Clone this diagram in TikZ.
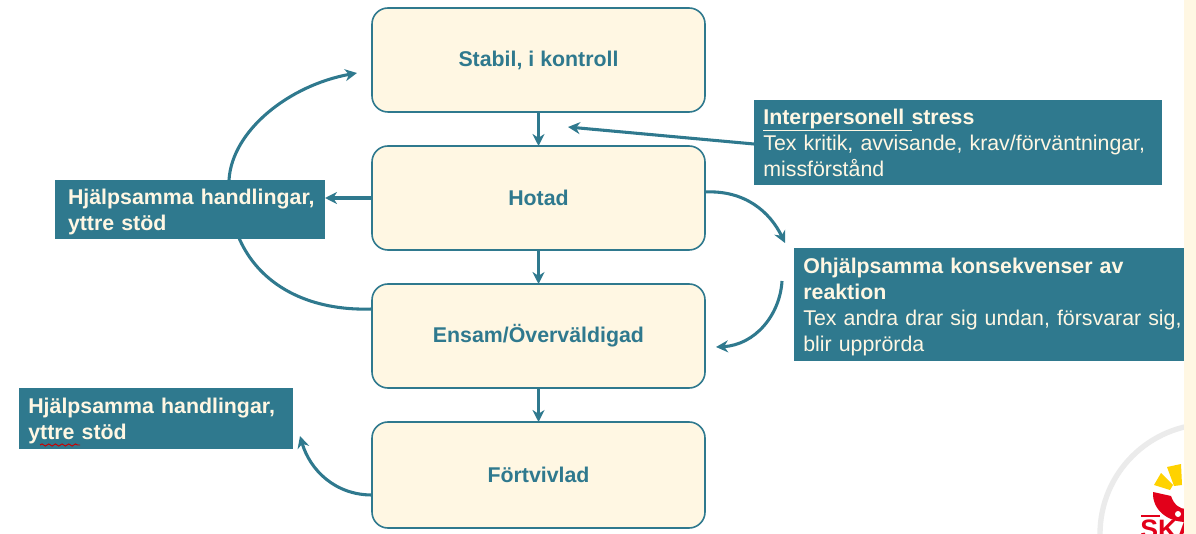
\documentclass[tikz,border=0pt]{standalone}
\usepackage{fontspec}
\setmainfont{Liberation Sans}
\usetikzlibrary{arrows.meta,positioning,decorations.pathmorphing}
\definecolor{tealdark}{HTML}{2F798E}
\definecolor{creamfill}{HTML}{FFF7E3}
\definecolor{logored}{HTML}{E2001A}
\definecolor{logoyellow}{HTML}{FFD200}
\newcommand{\notestrut}{\rule{0pt}{15pt}}

\begin{document}
\begin{tikzpicture}[x=0.75pt, y=-0.75pt,
  state/.style={rectangle, rounded corners=12pt, minimum width=249.75pt, minimum height=78pt, outer sep=0pt, text centered, draw=tealdark, line width=1.2pt, fill=creamfill, text=tealdark, font=\fontsize{16}{19}\selectfont\bfseries},
  note/.style={rectangle, anchor=north west, outer sep=0pt, inner xsep=7pt, inner ysep=0pt, align=left, fill=tealdark, text=creamfill, font=\fontsize{16}{19.5}\selectfont},
  link/.style={-{Stealth[length=9pt,width=9pt]}, draw=tealdark, line width=2.3pt}
]
\useasboundingbox (0,0) rectangle (1196,534);

% Logo
\begin{scope}
\clip (1000,380) rectangle (1184,534);
\node[circle, minimum size=165pt, draw=black!8, line width=4pt, fill=white] (logoring) at (1210,534) {};
\fill[logoyellow] (1154,485) -- (1161,473) -- (1173,485) -- (1170,490) -- cycle;
\fill[logoyellow] (1167,467) -- (1181,464) -- (1182,485) -- (1174,486) -- cycle;
\fill[logored] (1153,492) -- (1171,496) .. controls (1174,505) and (1180,509) .. (1186,509) -- (1186,522) .. controls (1168,522) and (1152,510) .. cycle;
\fill[white] (1178,514) circle (3);
\fill[logored] (1141,515) rectangle (1160,517);
\node[anchor=base west, inner sep=0pt, text=logored, font=\fontsize{20}{20}\selectfont\bfseries] (logotext) at (1140,538) {SKÅ};
\end{scope}
\fill[creamfill] (1184,0) rectangle (1196,534);

% Curve behind the left box
\coordinate (stabilin) at (357,73);
\coordinate (ensamout) at (372,309);
\draw[link] (ensamout) .. controls (285,312) and (226,262) .. (229,180) .. controls (232,130) and (290,85) .. (stabilin);

% States
\node[state] (stabil) at (538.5,60) {\raisebox{1.5pt}{Stabil, i kontroll}};
\node[state] (hotad) at (538.5,198) {Hotad};
\node[state] (ensam) at (538.5,336) {Ensam/Överväldigad};
\node[state, minimum height=79.5pt] (fortvivlad) at (538.5,475) {Förtvivlad};

% Notes
\node[note, text width=183pt, minimum height=44.25pt, inner xsep=9.75pt] (hjalpa) at (55,180) {\notestrut\textbf{\mbox{Hjälpsamma handlingar,}}\\ \textbf{yttre stöd}};
\node[note, text width=191.5pt, minimum height=45.75pt] (hjalpb) at (19,388) {\notestrut\textbf{Hjälpsamma handlingar,}\\ \textbf{yttre stöd}};
\node[note, text width=292pt, minimum height=63.75pt] (stress) at (754,100) {\textbf{\underline{Interpersonell }stress}\\ Tex kritik, avvisande, krav/förväntningar,\\ missförstånd};
\node[note, text width=278.5pt, minimum height=84.75pt] (konsekvens) at (794,248) {\notestrut\textbf{Ohjälpsamma konsekvenser av}\\ \textbf{reaktion}\\ \mbox{Tex andra drar sig undan, försvarar sig,}\\ blir upprörda};

% Spelling mark
\coordinate (wavestart) at (40,445);
\coordinate (waveend) at (80,445);
\draw[red!80!black, line width=0.7pt, decorate, decoration={snake, amplitude=0.8pt, segment length=5pt}] (wavestart) -- (waveend);

% Connections
\coordinate (stressin) at (568,127);
\coordinate (stressout) at (754,144);
\coordinate (hotadout) at (705,192);
\coordinate (hotadend) at (785,243);
\coordinate (konsout) at (782,281);
\coordinate (ensamin) at (716,347);
\coordinate (fortout) at (372,495);
\coordinate (hjalpbin) at (300,436);

\draw[link] (stabil) -- (hotad);
\draw[link] (hotad) -- (ensam);
\draw[link] (ensam) -- (fortvivlad);
\draw[link] (hotad) -- (hotad -| hjalpa.east);
\draw[link] (stressout) -- (stressin);
\draw[link] (hotadout) .. controls (745,190) and (770,212) .. (hotadend);
\draw[link] (konsout) .. controls (780,315) and (755,345) .. (ensamin);
\draw[link] (fortout) .. controls (335,495) and (310,470) .. (hjalpbin);

\end{tikzpicture}
\end{document}
